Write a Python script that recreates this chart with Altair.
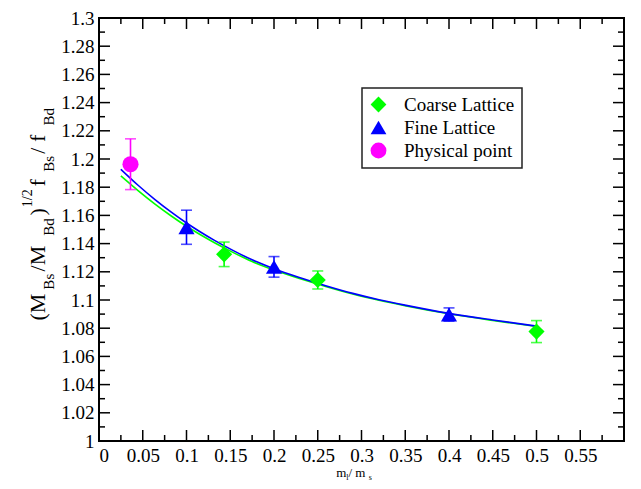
import altair as alt
import pandas as pd

# ---------------- data ----------------
series_names = ["Coarse Lattice", "Fine Lattice", "Physical point"]
series_colors = ["#00ff00", "#0000ff", "#ff00ff"]
series_shapes = ["diamond", "triangle-up", "circle"]

coarse_x = [0.143, 0.25, 0.5]
coarse_y = [1.1324, 1.1142, 1.0776]
coarse_err = [0.0087, 0.0064, 0.0078]

fine_x = [0.1, 0.2, 0.4]
fine_y = [1.1516, 1.1235, 1.0897]
fine_err = [0.0121, 0.0073, 0.0047]

phys_x = [0.036]
phys_y = [1.1963]
phys_err = [0.018]

fit_x = [0.025, 0.045, 0.064, 0.083, 0.1, 0.115, 0.132, 0.153, 0.175, 0.2,
         0.229, 0.26, 0.29, 0.32, 0.351, 0.4, 0.45, 0.5]
fit_fine_y = [1.1927, 1.1812, 1.1712, 1.1621, 1.1546, 1.1486, 1.1423, 1.1352, 1.1285, 1.1222,
              1.1160, 1.1100, 1.1047, 1.1002, 1.0962, 1.0905, 1.0858, 1.0815]
fit_coarse_y = [1.1880, 1.1774, 1.1680, 1.1594, 1.1523, 1.1466, 1.1406, 1.1338, 1.1273, 1.1212,
                1.1152, 1.1094, 1.1042, 1.0998, 1.0958, 1.0902, 1.0855, 1.0812]

x_major = [0, 0.05, 0.1, 0.15, 0.2, 0.25, 0.3, 0.35, 0.4, 0.45, 0.5, 0.55, 0.6]
x_minor = [0.025, 0.075, 0.125, 0.175, 0.225, 0.275, 0.325, 0.375, 0.425, 0.475, 0.525, 0.575]
x_labels = [0, 0.05, 0.1, 0.15, 0.2, 0.25, 0.3, 0.35, 0.4, 0.45, 0.5, 0.55]
y_major = [1.0, 1.02, 1.04, 1.06, 1.08, 1.1, 1.12, 1.14, 1.16, 1.18, 1.2, 1.22, 1.24, 1.26, 1.28, 1.3]
y_minor = [1.01, 1.03, 1.05, 1.07, 1.09, 1.11, 1.13, 1.15, 1.17, 1.19, 1.21, 1.23, 1.25, 1.27, 1.29]

FONT = "Liberation Serif"
W, H = 525, 423
MAJ, MIN = 11, 6

xs = alt.Scale(domain=[0, 0.6], nice=False, zero=False)
ys = alt.Scale(domain=[1.0, 1.3], nice=False, zero=False)
ax_common = dict(format="~g", title=None, labelFont=FONT, labelFontSize=19, labelColor="black",
                 labelPadding=5, ticks=False, domain=False, grid=False)
ax_x = alt.Axis(values=x_labels, **ax_common)
ax_y = alt.Axis(values=y_major, **ax_common)


def X(f):
    return alt.X(f, scale=xs, axis=ax_x)


def Y(f):
    return alt.Y(f, scale=ys, axis=ax_y)


layers = []

# fit curves
fit_df = pd.DataFrame({"x": fit_x, "yc": fit_coarse_y, "yf": fit_fine_y})
layers.append(alt.Chart(fit_df).mark_line(color="#00ff00", strokeWidth=1.6, interpolate="monotone")
              .encode(x=X("x:Q"), y=Y("yc:Q")))
layers.append(alt.Chart(fit_df).mark_line(color="#0000ff", strokeWidth=1.6, interpolate="monotone")
              .encode(x=X("x:Q"), y=Y("yf:Q")))

# error bars
for xv, yv, ev, col in [(coarse_x, coarse_y, coarse_err, series_colors[0]),
                        (fine_x, fine_y, fine_err, series_colors[1]),
                        (phys_x, phys_y, phys_err, series_colors[2])]:
    df = pd.DataFrame({"x": xv, "y": yv, "e": ev})
    df["lo"] = df["y"] - df["e"]
    df["hi"] = df["y"] + df["e"]
    layers.append(alt.Chart(df).mark_rule(color=col, strokeWidth=1.6)
                  .encode(x=X("x:Q"), y=Y("lo:Q"), y2="hi:Q"))
    for fld in ["lo", "hi"]:
        layers.append(alt.Chart(df).mark_tick(color=col, orient="horizontal", size=11, thickness=1.6)
                      .encode(x=X("x:Q"), y=Y(f"{fld}:Q")))

# points with legend
pts = pd.DataFrame({
    "x": coarse_x + fine_x + phys_x,
    "y": coarse_y + fine_y + phys_y,
    "series": [series_names[0]] * len(coarse_x) + [series_names[1]] * len(fine_x) + [series_names[2]] * len(phys_x),
})
leg = alt.Legend(title=None, orient="none", legendX=263, legendY=70)
layers.append(alt.Chart(pts).mark_point(filled=True, opacity=1, size=260)
              .encode(
                  x=X("x:Q"), y=Y("y:Q"),
                  color=alt.Color("series:N", scale=alt.Scale(domain=series_names, range=series_colors), legend=leg),
                  shape=alt.Shape("series:N", scale=alt.Scale(domain=series_names, range=series_shapes), legend=leg),
              ))

# inward ticks on all four sides
ym = pd.DataFrame({"t": y_major})
yn = pd.DataFrame({"t": y_minor})
xm = pd.DataFrame({"t": x_major})
xn = pd.DataFrame({"t": x_minor})
for df, L in [(ym, MAJ), (yn, MIN)]:
    layers.append(alt.Chart(df).mark_rule(color="black", strokeWidth=1.5)
                  .encode(y=Y("t:Q"), x=alt.value(0), x2=alt.value(L)))
    layers.append(alt.Chart(df).mark_rule(color="black", strokeWidth=1.5)
                  .encode(y=Y("t:Q"), x=alt.value(W - L), x2=alt.value(W)))
for df, L in [(xm, MAJ), (xn, MIN)]:
    layers.append(alt.Chart(df).mark_rule(color="black", strokeWidth=1.5)
                  .encode(x=X("t:Q"), y=alt.value(H), y2=alt.value(H - L)))
    layers.append(alt.Chart(df).mark_rule(color="black", strokeWidth=1.5)
                  .encode(x=X("t:Q"), y=alt.value(0), y2=alt.value(L)))

# ---------------- axis titles with sub/superscripts ----------------
cw = {"(": .333, ")": .333, "M": .889, "B": .667, "s": .389, "d": .5, "f": .333, "/": .278,
      " ": .25, "1": .5, "2": .5, "m": .778, "l": .278}


def tw(s, size):
    return sum(cw.get(c, .5) for c in s) * size


one = pd.DataFrame({"a": [0]})

ytitle = [("(M", 22, "main"), ("Bs", 15, "sub"), (" /M", 22, "main"), ("Bd", 15, "sub"),
          (")", 22, "main"), ("1/2", 14, "sup"), (" f", 22, "main"), ("Bs", 15, "sub"),
          (" / f", 22, "main"), ("Bd", 15, "sub")]
ybase = {"main": -54, "sub": -45, "sup": -67}
YT_LEN, YT_CENTER = 215, 195
total = sum(tw(t, s) for t, s, _ in ytitle)
stretch = YT_LEN / total
pos = YT_CENTER + YT_LEN / 2
for t, s, kind in ytitle:
    layers.append(alt.Chart(one).mark_text(text=t, angle=270, align="left", baseline="alphabetic",
                                           font=FONT, fontSize=s, color="black")
                  .encode(x=alt.value(ybase[kind]), y=alt.value(pos)))
    pos -= tw(t, s) * stretch

xtitle = [("m", 13, "main"), ("l", 8, "sub"), (" / m", 13, "main"), ("s", 8, "sub")]
xbase = {"main": 459, "sub": 462}
total = sum(tw(t, s) for t, s, _ in xtitle)
pos = 255 - total / 2
for t, s, kind in xtitle:
    layers.append(alt.Chart(one).mark_text(text=t, align="left", baseline="alphabetic",
                                           font=FONT, fontSize=s, color="black")
                  .encode(x=alt.value(pos), y=alt.value(xbase[kind])))
    pos += tw(t, s)

chart = (alt.layer(*layers)
         .properties(width=W, height=H, autosize=alt.AutoSizeParams(type="none"),
                     padding={"left": 91, "top": 10, "right": 8, "bottom": 40})
         .configure_view(stroke="black", strokeWidth=2)
         .configure_axis(ticks=False, domain=False, grid=False, tickSize=0,
                         labelFont=FONT, labelFontSize=19, labelColor="black", labelPadding=5)
         .configure_legend(padding=7, strokeColor="#222222", strokeWidth=1.5, fillColor="white",
                           labelFont=FONT, labelFontSize=19, labelColor="black",
                           symbolSize=250, symbolStrokeWidth=0, rowPadding=3, labelOffset=16,
                           cornerRadius=0))

chart.save("out.html", embed_options={"renderer": "svg", "actions": False})
